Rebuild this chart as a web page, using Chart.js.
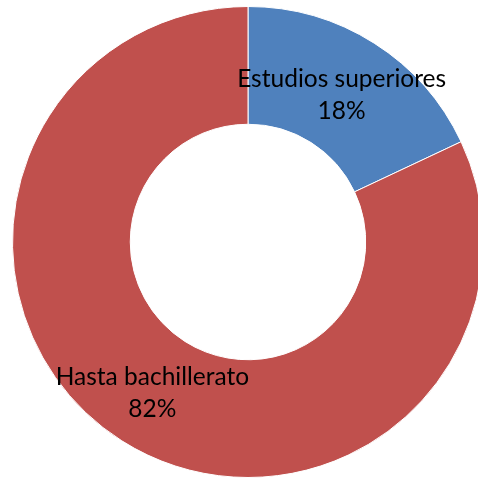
<!DOCTYPE html>
<html>
<head>
<meta charset="utf-8">
<script src="https://cdn.jsdelivr.net/npm/chart.js@4.4.0/dist/chart.umd.min.js"></script>
<style>
  html, body { margin: 0; padding: 0; background: #fff; overflow: hidden; }
  #wrap { width: 478px; height: 481px; overflow: hidden; position: relative; }
  canvas { position: absolute; left: 0; top: 0; }
</style>
</head>
<body>
<div id="wrap"><canvas id="donutChart" width="496" height="484"></canvas></div>
<script>
const categories = ['Estudios superiores', 'Hasta bachillerato'];
const shares = [18, 82];
const sliceColors = ['#4F81BD', '#C0504D'];

// labels drawn in the middle of each ring segment, name over percent
const sliceLabels = {
    id: 'sliceLabels',
    afterDatasetsDraw(chart) {
        const ctx = chart.ctx;
        const meta = chart.getDatasetMeta(0);
        ctx.save();
        ctx.fillStyle = '#000';
        ctx.font = '24.5px Lato, Carlito, sans-serif';
        ctx.textAlign = 'center';
        ctx.textBaseline = 'middle';
        meta.data.forEach((arc, i) => {
            const p = arc.getCenterPoint();
            ctx.fillText(categories[i], p.x - 1, p.y - 14);
            ctx.fillText(shares[i] + '%', p.x - 1, p.y + 18);
        });
        ctx.restore();
    }
};

function createDonutChart() {
    const ctx = document.getElementById('donutChart').getContext('2d');
    new Chart(ctx, {
        type: 'doughnut',
        data: {
            labels: categories,
            datasets: [{
                data: shares,
                backgroundColor: sliceColors,
                borderColor: '#ffffff',
                borderWidth: 1
            }]
        },
        options: {
            responsive: false,
            animation: false,
            cutout: '50%',
            layout: { padding: 6 },
            plugins: {
                legend: { display: false },
                tooltip: { enabled: false }
            }
        },
        plugins: [sliceLabels]
    });
}

createDonutChart();
</script>
</body>
</html>
